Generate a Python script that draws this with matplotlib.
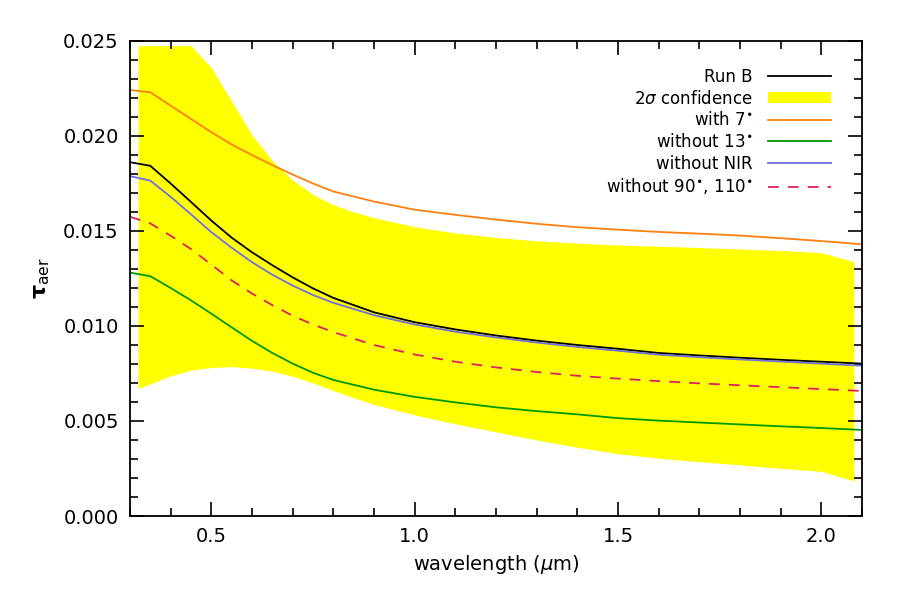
import numpy as np
import matplotlib.pyplot as plt
from matplotlib.ticker import MultipleLocator, FormatStrFormatter

# wavelength grid (micron) for the model curves
wl = [0.30, 0.35, 0.40, 0.45, 0.50, 0.55, 0.60, 0.65, 0.70, 0.75, 0.80, 0.90, 1.00,
      1.10, 1.20, 1.30, 1.40, 1.50, 1.60, 1.70, 1.80, 1.90, 2.00, 2.10]

run_b = [0.01862, 0.01843, 0.01750, 0.01653, 0.01555, 0.01465, 0.01388, 0.01320,
         0.01256, 0.01198, 0.01148, 0.01072, 0.01020, 0.00982, 0.00950, 0.00923, 0.00900,
         0.00880, 0.00858, 0.00845, 0.00833, 0.00822, 0.00812, 0.00802]
with7 = [0.02242, 0.02230, 0.02160, 0.02090, 0.02020, 0.01955, 0.01900, 0.01847,
         0.01797, 0.01750, 0.01708, 0.01655, 0.01612, 0.01585, 0.01560, 0.01538, 0.01520,
         0.01507, 0.01495, 0.01486, 0.01476, 0.01462, 0.01447, 0.01430]
without13 = [0.01281, 0.01262, 0.01200, 0.01135, 0.01065, 0.00993, 0.00922, 0.00858,
             0.00802, 0.00754, 0.00716, 0.00665, 0.00627, 0.00598, 0.00572, 0.00552, 0.00535,
             0.00515, 0.00502, 0.00492, 0.00482, 0.00472, 0.00463, 0.00453]
without_nir = [0.01789, 0.01765, 0.01680, 0.01588, 0.01494, 0.01412, 0.01336, 0.01270,
               0.01213, 0.01163, 0.01122, 0.01057, 0.01008, 0.00970, 0.00940, 0.00913, 0.00890,
               0.00870, 0.00849, 0.00836, 0.00824, 0.00813, 0.00802, 0.00791]
without90 = [0.01575, 0.01540, 0.01475, 0.01405, 0.01323, 0.01240, 0.01171, 0.01110,
             0.01054, 0.01008, 0.00968, 0.00900, 0.00850, 0.00812, 0.00782, 0.00758, 0.00738,
             0.00723, 0.00710, 0.00698, 0.00688, 0.00678, 0.00668, 0.00658]

# 2 sigma confidence band
wl_band = [0.32, 0.35, 0.40, 0.45, 0.50, 0.55, 0.60, 0.65, 0.70, 0.75, 0.80, 0.85,
           0.90, 1.00, 1.10, 1.20, 1.30, 1.40, 1.50, 1.60, 1.70, 1.80, 1.90, 2.00, 2.08]
band_hi = [0.02475, 0.02475, 0.02475, 0.02475, 0.02360, 0.02182, 0.02006, 0.01870,
           0.01768, 0.01692, 0.01638, 0.01600, 0.01570, 0.01522, 0.01490, 0.01466,
           0.01448, 0.01436, 0.01426, 0.01420, 0.01413, 0.01405, 0.01397, 0.01386, 0.01338]
band_lo = [0.00672, 0.00695, 0.00738, 0.00768, 0.00782, 0.00786, 0.00778, 0.00762,
           0.00735, 0.00700, 0.00660, 0.00622, 0.00587, 0.00532, 0.00485, 0.00443,
           0.00400, 0.00362, 0.00328, 0.00304, 0.00286, 0.00269, 0.00251, 0.00235, 0.00185]

plt.rcParams['font.family'] = ['DejaVu Sans']
plt.rcParams['mathtext.fontset'] = 'dejavusans'

fig = plt.figure(figsize=(9, 6), dpi=100)
ax = fig.add_axes([0.1444, 0.14, 0.8134, 0.7917])

ax.fill_between(wl_band, band_lo, band_hi, color='#ffff00', lw=0, label=r'2$\sigma$ confidence')
ax.plot(wl, run_b, color='black', lw=1.3, label='Run B')
ax.plot(wl, with7, color='#ff7f10', lw=1.3, label=r'with 7$^{\bullet}$')
ax.plot(wl, without13, color='#009900', lw=1.3, label=r'without 13$^{\bullet}$')
ax.plot(wl, without_nir, color='#6f6fdf', lw=1.3, label='without NIR')
ax.plot(wl, without90, color='#dd2060', lw=1.3, ls=(0, (6, 5)),
        label=r'without 90$^{\bullet}$, 110$^{\bullet}$')

ax.set_xlim(0.3, 2.1)
ax.set_ylim(0.0, 0.025)
ax.xaxis.set_major_locator(MultipleLocator(0.5))
ax.xaxis.set_minor_locator(MultipleLocator(0.1))
ax.yaxis.set_major_locator(MultipleLocator(0.005))
ax.yaxis.set_minor_locator(MultipleLocator(0.001))
ax.xaxis.set_major_formatter(FormatStrFormatter('%.1f'))
ax.yaxis.set_major_formatter(FormatStrFormatter('%.3f'))
ax.tick_params(which='both', direction='in', top=True, right=True, width=1.2, labelsize=14)
ax.tick_params(which='major', length=10, pad=8)
ax.tick_params(which='minor', length=6)
for s in ax.spines.values():
    s.set_linewidth(1.3)

ax.set_xlabel(r'wavelength ($\mu$m)', fontsize=14, labelpad=5)
ax.set_ylabel(r'$\mathbf{\tau}_{\rm aer}$', fontsize=16, labelpad=8)

h, l = ax.get_legend_handles_labels()
order = [1, 0, 2, 3, 4, 5]
ax.legend([h[i] for i in order], [l[i] for i in order], loc='upper right',
          bbox_to_anchor=(0.978, 0.975), frameon=False, markerfirst=False,
          fontsize=12, handlelength=3.8, handleheight=0.6, labelspacing=0.22,
          handletextpad=0.9)

plt.savefig('out.png', dpi=100)
